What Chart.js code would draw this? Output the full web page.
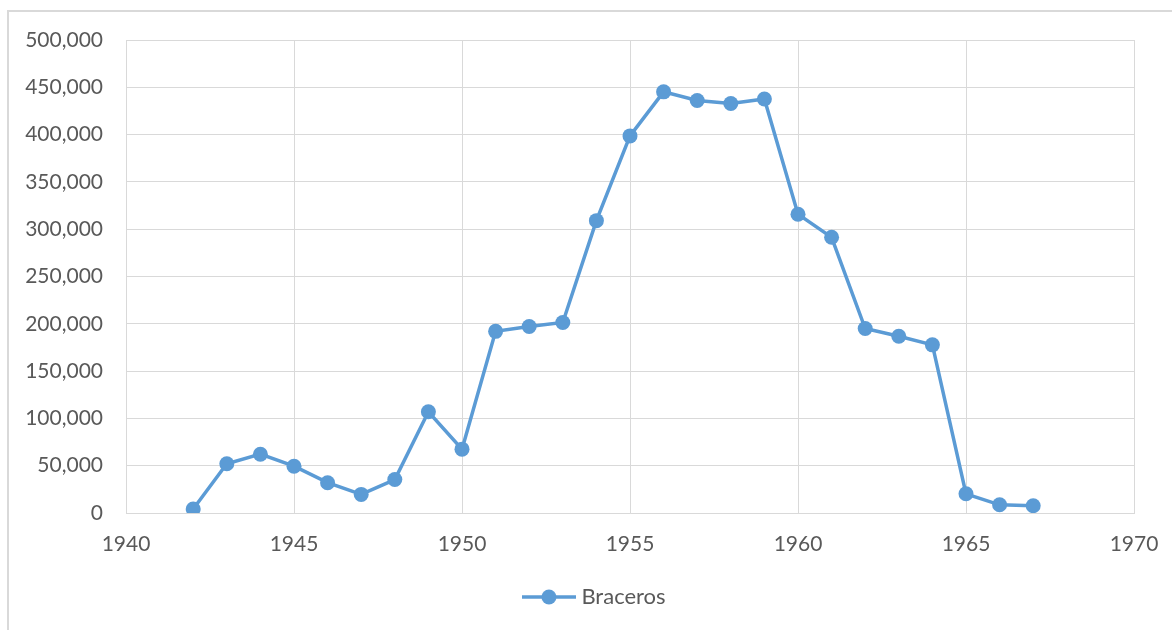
<!DOCTYPE html>
<html lang="en">
<head>
  <meta charset="UTF-8" />
  <title>Braceros</title>
  <script src="https://cdn.jsdelivr.net/npm/chart.js"></script>
  <style>
    body {
      margin: 0;
      background: #ffffff;
      font-family: 'Lato', sans-serif;
    }
    .frame {
      position: absolute;
      left: 7px;
      top: 10px;
      width: 1165px;
      height: 620px;
      border-left: 2px solid #d9d9d9;
      border-top: 2px solid #d9d9d9;
      box-sizing: border-box;
    }
    .wrap {
      position: absolute;
      left: 0;
      top: 0;
      width: 1172px;
      height: 630px;
    }
  </style>
</head>
<body>
  <div class="frame"></div>
  <div class="wrap"><canvas id="chart"></canvas></div>

  <script>
    // data
    const years = [1942, 1943, 1944, 1945, 1946, 1947, 1948, 1949, 1950, 1951, 1952, 1953, 1954,
                   1955, 1956, 1957, 1958, 1959, 1960, 1961, 1962, 1963, 1964, 1965, 1966, 1967];
    const braceros = [4203, 52098, 62170, 49454, 32043, 19632, 35345, 107000, 67500, 192000, 197100, 201380, 309033,
                      398650, 445197, 436049, 432857, 437643, 315846, 291420, 194978, 186865, 177736, 20284, 8647, 7703];
    const xTicks = [1940, 1945, 1950, 1955, 1960, 1965, 1970];
    const yMax = 500000;

    const blue = '#5b9bd5';
    const textColor = '#595959';
    const gridColor = '#d9d9d9';

    // legend marker: line with a dot on it
    const marker = document.createElement('canvas');
    marker.width = 54;
    marker.height = 16;
    const mctx = marker.getContext('2d');
    mctx.strokeStyle = blue;
    mctx.lineWidth = 3.5;
    mctx.beginPath();
    mctx.moveTo(0, 8);
    mctx.lineTo(54, 8);
    mctx.stroke();
    mctx.fillStyle = blue;
    mctx.beginPath();
    mctx.arc(27, 8, 7.5, 0, Math.PI * 2);
    mctx.fill();

    const points = years.map((y, i) => ({ x: y, y: braceros[i] }));

    new Chart(document.getElementById('chart'), {
      type: 'line',
      data: {
        datasets: [{
          label: 'Braceros',
          data: points,
          borderColor: blue,
          backgroundColor: blue,
          borderWidth: 3.5,
          pointRadius: 7.5,
          pointHoverRadius: 7.5,
          pointBorderWidth: 0,
          tension: 0
        }]
      },
      options: {
        responsive: true,
        maintainAspectRatio: false,
        animation: false,
        layout: {
          padding: { left: 21, top: 40, right: 0, bottom: 12 }
        },
        plugins: {
          tooltip: { enabled: false },
          legend: {
            position: 'bottom',
            labels: {
              color: textColor,
              font: { family: 'Lato', size: 22 },
              usePointStyle: true,
              pointStyle: marker,
              pointStyleWidth: 43,
              padding: 10
            }
          }
        },
        scales: {
          x: {
            type: 'linear',
            min: xTicks[0],
            max: xTicks[xTicks.length - 1],
            afterFit: (axis) => {
              axis.height = 63;
              // the spacer axis already leaves room for the last label
              axis.paddingLeft = 0;
              axis.paddingRight = 0;
            },
            afterBuildTicks: (axis) => { axis.ticks = xTicks.map(v => ({ value: v })); },
            grid: { color: gridColor, drawTicks: false },
            border: { color: gridColor },
            ticks: {
              color: textColor,
              font: { family: 'Lato', size: 21 },
              padding: 19,
              maxRotation: 0,
              callback: (v) => String(v)
            }
          },
          y: {
            min: 0,
            max: yMax,
            afterFit: (axis) => { axis.width = 105; },
            grid: { color: gridColor, drawTicks: false },
            border: { color: gridColor },
            ticks: {
              stepSize: 50000,
              color: textColor,
              font: { family: 'Lato', size: 21 },
              padding: 23,
              callback: (v) => v.toLocaleString('en-US')
            }
          },
          // empty right-hand strip so the plot stops where the reference does
          spacer: {
            position: 'right',
            afterFit: (axis) => { axis.width = 38; },
            grid: { display: false, drawTicks: false },
            border: { display: false },
            ticks: { display: false }
          }
        }
      }
    });
  </script>
</body>
</html>
